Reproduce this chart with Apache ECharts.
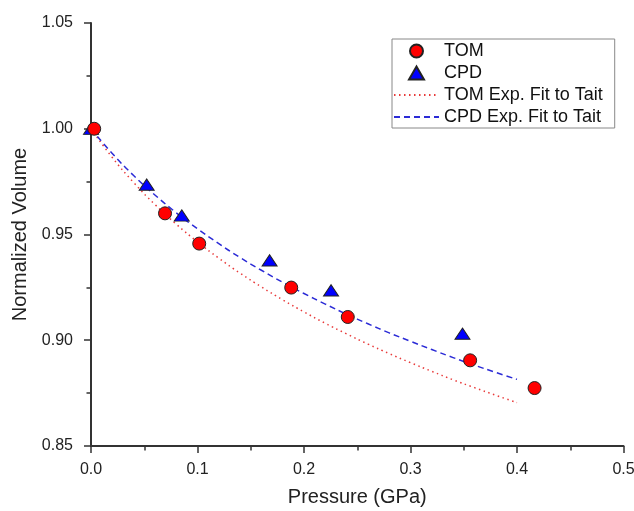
<!DOCTYPE html>
<html>
<head>
<meta charset="utf-8">
<script src="https://cdn.jsdelivr.net/npm/echarts@6/dist/echarts.min.js"></script>
<style>
html,body{margin:0;padding:0;background:#fff;}
#chart{width:634px;height:511px;}
</style>
</head>
<body>
<div id="chart"></div>
<script>
// Measured data points (Pressure GPa, Normalized Volume)
const tomP = [0.003, 0.0695, 0.1016, 0.188, 0.2411, 0.356, 0.4165];
const tomV = [1.000, 0.960, 0.9457, 0.9249, 0.911, 0.8905, 0.8774];
const cpdP = [0.000, 0.0523, 0.0852, 0.1677, 0.2254, 0.3488];
const cpdV = [1.000, 0.9736, 0.959, 0.9378, 0.9236, 0.9031];

// Fit curves
const fitP = [0, 0.02, 0.04, 0.06, 0.08, 0.10, 0.12, 0.14, 0.16, 0.18, 0.20, 0.22, 0.24, 0.26, 0.28, 0.30, 0.32, 0.34, 0.36, 0.38, 0.40];
const tomFitV = [1.0, 0.9864, 0.9746, 0.9642, 0.9549, 0.9465, 0.9388, 0.9317, 0.9252, 0.9191, 0.9134, 0.9080, 0.9030, 0.8982, 0.8937, 0.8894, 0.8853, 0.8813, 0.8776, 0.8740, 0.8705];
const cpdFitV = [1.0, 0.9883, 0.9779, 0.9687, 0.9603, 0.9527, 0.9457, 0.9391, 0.9331, 0.9274, 0.9221, 0.9171, 0.9123, 0.9078, 0.9035, 0.8995, 0.8956, 0.8918, 0.8882, 0.8848, 0.8815];

const xTicks = ['0.0', '0.1', '0.2', '0.3', '0.4', '0.5'];
const yTicks = ['0.85', '0.90', '0.95', '1.00', '1.05'];

const zip = (a, b) => a.map((v, i) => [v, b[i]]);
const FONT = 'Liberation Sans, Arial, sans-serif';
const TRI = 'path://M7.5,0L15,13L0,13Z';

const chart = echarts.init(document.getElementById('chart'), null, {renderer: 'canvas'});
const axisCommon = {
  axisLine: {show: true, onZero: false, lineStyle: {color: '#333', width: 2}},
  axisTick: {show: true, inside: false, length: 7, lineStyle: {color: '#333', width: 1.5}},
  minorTick: {show: true, splitNumber: 2, length: 4.5, lineStyle: {color: '#333', width: 1.5}},
  splitLine: {show: false},
  nameLocation: 'middle',
  nameTextStyle: {fontFamily: FONT, fontSize: 20, color: '#222'}
};
chart.setOption({
  animation: false,
  backgroundColor: '#fff',
  grid: {left: 91, right: 10.5, top: 23, bottom: 65, containLabel: false, outerBoundsMode: 'none'},
  xAxis: Object.assign({}, axisCommon, {
    type: 'value', min: 0, max: 0.5, interval: 0.1,
    name: 'Pressure (GPa)', nameGap: 41,
    axisLabel: {margin: 16, fontFamily: FONT, fontSize: 16, color: '#222',
      formatter: v => xTicks[Math.round(v * 10)]}
  }),
  yAxis: Object.assign({}, axisCommon, {
    type: 'value', min: 0.85, max: 1.05, interval: 0.05,
    name: 'Normalized Volume', nameGap: 61,
    axisLabel: {margin: 18, fontFamily: FONT, fontSize: 16, color: '#222',
      formatter: v => yTicks[Math.round((v - 0.85) / 0.05)]}
  }),
  legend: {
    orient: 'vertical', left: 392, top: 39,
    itemWidth: 45, itemHeight: 13, itemGap: 4,
    padding: [3, 12, 2, 1],
    borderColor: '#888', borderWidth: 1,
    textStyle: {fontFamily: FONT, fontSize: 18, color: '#111'},
    data: [
      {name: 'TOM'},
      {name: 'CPD'},
      {name: 'TOM Exp. Fit to Tait', itemStyle: {opacity: 0}},
      {name: 'CPD Exp. Fit to Tait', itemStyle: {opacity: 0}}
    ]
  },
  series: [
    {
      name: 'TOM Exp. Fit to Tait', type: 'line', data: zip(fitP, tomFitV),
      symbol: 'none', smooth: true, z: 2,
      lineStyle: {color: '#e83a3a', width: 1.5, type: [1.5, 3.5]},
      itemStyle: {color: '#e83a3a'}
    },
    {
      name: 'CPD Exp. Fit to Tait', type: 'line', data: zip(fitP, cpdFitV),
      symbol: 'none', smooth: true, z: 2,
      lineStyle: {color: '#2b2bd6', width: 1.5, type: [6, 4]},
      itemStyle: {color: '#2b2bd6'}
    },
    {
      name: 'CPD', type: 'scatter', data: zip(cpdP, cpdV),
      symbol: TRI, symbolSize: [15, 13], symbolKeepAspect: true, z: 3,
      itemStyle: {color: '#0000ff', borderColor: '#222', borderWidth: 1, opacity: 1}
    },
    {
      name: 'TOM', type: 'scatter', data: zip(tomP, tomV),
      symbol: 'circle', symbolSize: 13, z: 4,
      itemStyle: {color: '#ff0000', borderColor: '#222', borderWidth: 1, opacity: 1}
    }
  ]
});
</script>
</body>
</html>
